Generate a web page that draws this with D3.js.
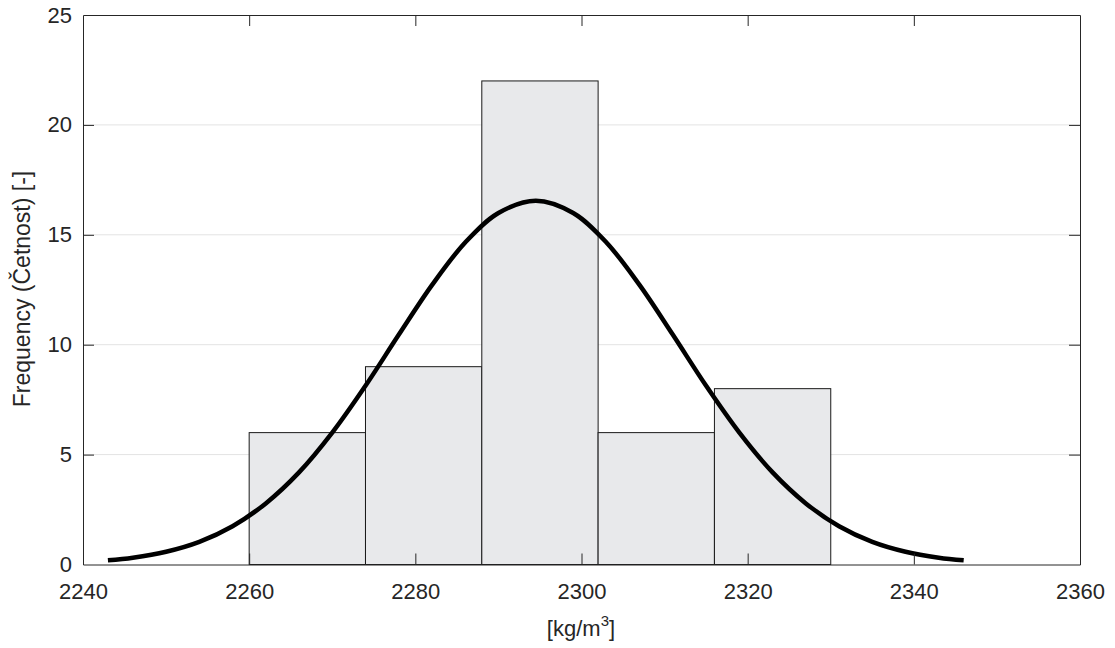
<!DOCTYPE html>
<html>
<head>
<meta charset="utf-8">
<script src="https://cdn.jsdelivr.net/npm/d3@7"></script>
<style>
  html, body { margin: 0; padding: 0; background: #fff; }
  svg { display: block; font-family: "Liberation Sans", Arial, Helvetica, sans-serif; }
</style>
</head>
<body>
<div id="grafico"></div>
<script>
// Histogram bins (edges) and counts
const binEdges = [2260, 2274, 2288, 2302, 2316, 2330];
const binCounts = [6, 9, 22, 6, 8];

// Fitted curve
const curveX = [2243, 2246, 2250, 2254, 2258, 2262, 2266, 2270, 2274, 2278, 2282, 2286, 2290, 2294.5,
  2299, 2303, 2307, 2311, 2315, 2319, 2323, 2327, 2331, 2335, 2339, 2343, 2346];
const curveY = [0.19, 0.31, 0.58, 1.03, 1.74, 2.78, 4.19, 6.0, 8.13, 10.45, 12.71, 14.65, 15.99, 16.55,
  15.99, 14.65, 12.71, 10.45, 8.13, 6.0, 4.19, 2.78, 1.74, 1.03, 0.58, 0.31, 0.19];

const xTicks = [2240, 2260, 2280, 2300, 2320, 2340, 2360];
const yTicks = [0, 5, 10, 15, 20, 25];

const width = 1115;
const height = 648;
const marginLeft = 83;
const marginRight = 35;
const marginTop = 15;
const marginBottom = 83.5;
const fontSize = 22;

const x = d3.scaleLinear().domain([2240, 2360]).range([marginLeft, width - marginRight]);
const y = d3.scaleLinear().domain([0, 25]).range([height - marginBottom, marginTop]);

const axisColor = "#262626";
const tickLen = 11;

const svg = d3.select("#grafico")
  .append("svg")
  .attr("width", width)
  .attr("height", height);

// horizontal grid lines
svg.append("g")
  .selectAll("line")
  .data(yTicks.slice(1, -1))
  .join("line")
  .attr("x1", x.range()[0])
  .attr("x2", x.range()[1])
  .attr("y1", (d) => y(d))
  .attr("y2", (d) => y(d))
  .attr("stroke", "#e3e3e3")
  .attr("stroke-width", 1);

// bars
const bins = binCounts.map((c, i) => ({ x0: binEdges[i], x1: binEdges[i + 1], count: c }));
svg.append("g")
  .selectAll("rect")
  .data(bins)
  .join("rect")
  .attr("x", (d) => x(d.x0))
  .attr("y", (d) => y(d.count))
  .attr("width", (d) => x(d.x1) - x(d.x0))
  .attr("height", (d) => y(0) - y(d.count))
  .attr("fill", "#e8e9eb")
  .attr("stroke", "#1a1a1a")
  .attr("stroke-width", 1);

// fitted curve
const line = d3.line()
  .x((d) => x(d[0]))
  .y((d) => y(d[1]))
  .curve(d3.curveCatmullRom.alpha(0.5));

svg.append("path")
  .datum(curveX.map((v, i) => [v, curveY[i]]))
  .attr("fill", "none")
  .attr("stroke", "#000")
  .attr("stroke-width", 4.5)
  .attr("d", line);

// axes (MATLAB style: ticks inside, box)
const gx = svg.append("g")
  .attr("transform", `translate(0,${y(0)})`)
  .call(d3.axisBottom(x).tickValues(xTicks).tickSizeInner(-tickLen).tickSizeOuter(0).tickPadding(19).tickFormat(d3.format("d")));

const gxTop = svg.append("g")
  .attr("transform", `translate(0,${y(25)})`)
  .call(d3.axisTop(x).tickValues(xTicks).tickSizeInner(-tickLen).tickSizeOuter(0).tickFormat(""));

const gy = svg.append("g")
  .attr("transform", `translate(${x(2240)},0)`)
  .call(d3.axisLeft(y).tickValues(yTicks).tickSizeInner(-tickLen).tickSizeOuter(0).tickPadding(11));

const gyRight = svg.append("g")
  .attr("transform", `translate(${x(2360)},0)`)
  .call(d3.axisRight(y).tickValues(yTicks).tickSizeInner(-tickLen).tickSizeOuter(0).tickFormat(""));

[gx, gxTop, gy, gyRight].forEach((g) => {
  g.selectAll(".domain").attr("stroke", axisColor).attr("stroke-width", 1);
  g.selectAll(".tick line").attr("stroke", axisColor).attr("stroke-width", 1);
  g.selectAll(".tick text")
    .attr("fill", axisColor)
    .attr("font-size", fontSize)
    .attr("font-family", "'Liberation Sans', Arial, sans-serif");
});

// hide end ticks that sit on the box edges
gx.selectAll(".tick line").filter((d) => d === 2240 || d === 2360).remove();
gxTop.selectAll(".tick line").filter((d) => d === 2240 || d === 2360).remove();
gy.selectAll(".tick line").filter((d) => d === 0 || d === 25).remove();
gyRight.selectAll(".tick line").filter((d) => d === 0 || d === 25).remove();

// axis labels
const xLabel = svg.append("text")
  .attr("x", 581)
  .attr("y", 636)
  .attr("text-anchor", "middle")
  .attr("font-size", fontSize)
  .attr("fill", axisColor);
xLabel.append("tspan").text("[kg/m");
xLabel.append("tspan").attr("dy", -10).attr("font-size", 15).text("3");
xLabel.append("tspan").attr("dy", 10).text("]");

svg.append("text")
  .attr("transform", `translate(30,289) rotate(-90)`)
  .attr("text-anchor", "middle")
  .attr("font-size", 23)
  .attr("fill", axisColor)
  .text("Frequency (Četnost) [-]");
</script>
</body>
</html>
